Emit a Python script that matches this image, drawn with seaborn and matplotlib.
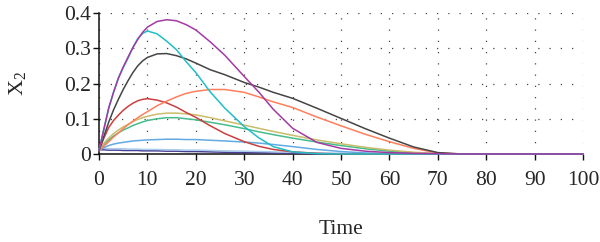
import pandas as pd
import matplotlib
matplotlib.use("Agg")
import matplotlib.pyplot as plt
import seaborn as sns

time = [0, 1, 2, 3, 4, 5, 6, 7, 8, 9, 10, 12, 14, 16, 18, 20, 23, 26, 30, 33, 36, 40, 45, 50, 55, 60, 65, 70, 75, 80, 90, 100]

navy = [0.012, 0.012, 0.011, 0.011, 0.011, 0.010, 0.010, 0.010, 0.010, 0.009, 0.009, 0.009, 0.008, 0.008, 0.007, 0.007, 0.006, 0.005, 0.004, 0.004, 0.003, 0.002, 0.001, 0.001, 0, 0, 0, 0, 0, 0, 0, 0]
pale_blue = [0.016, 0.016, 0.015, 0.015, 0.015, 0.015, 0.014, 0.014, 0.014, 0.013, 0.013, 0.013, 0.012, 0.012, 0.011, 0.011, 0.010, 0.009, 0.008, 0.007, 0.006, 0.005, 0.003, 0.002, 0.001, 0, 0, 0, 0, 0, 0, 0]
light_blue = [0.010, 0.018, 0.024, 0.028, 0.031, 0.033, 0.035, 0.037, 0.038, 0.039, 0.040, 0.041, 0.042, 0.042, 0.041, 0.041, 0.039, 0.037, 0.034, 0.031, 0.027, 0.021, 0.013, 0.007, 0.003, 0.001, 0, 0, 0, 0, 0, 0]
green = [0.010, 0.027, 0.040, 0.051, 0.060, 0.068, 0.074, 0.081, 0.086, 0.091, 0.095, 0.100, 0.103, 0.103, 0.100, 0.097, 0.090, 0.083, 0.072, 0.063, 0.055, 0.045, 0.034, 0.024, 0.015, 0.008, 0.003, 0.001, 0, 0, 0, 0]
olive = [0.010, 0.030, 0.045, 0.058, 0.068, 0.077, 0.084, 0.092, 0.098, 0.103, 0.107, 0.113, 0.116, 0.116, 0.114, 0.111, 0.103, 0.094, 0.082, 0.073, 0.064, 0.053, 0.040, 0.029, 0.019, 0.011, 0.005, 0.001, 0, 0, 0, 0]
red = [0.010, 0.045, 0.075, 0.095, 0.110, 0.124, 0.135, 0.144, 0.151, 0.155, 0.157, 0.153, 0.145, 0.133, 0.118, 0.104, 0.080, 0.058, 0.035, 0.022, 0.013, 0.006, 0.002, 0, 0, 0, 0, 0, 0, 0, 0, 0]
orange = [0.010, 0.022, 0.035, 0.048, 0.060, 0.072, 0.083, 0.093, 0.103, 0.112, 0.120, 0.137, 0.150, 0.162, 0.172, 0.178, 0.183, 0.183, 0.175, 0.162, 0.148, 0.132, 0.105, 0.080, 0.056, 0.035, 0.016, 0.003, 0, 0, 0, 0]
gray = [0.010, 0.050, 0.090, 0.125, 0.155, 0.183, 0.208, 0.231, 0.250, 0.264, 0.274, 0.284, 0.285, 0.279, 0.270, 0.258, 0.239, 0.225, 0.203, 0.190, 0.175, 0.158, 0.130, 0.101, 0.072, 0.045, 0.020, 0.004, 0, 0, 0, 0]
cyan = [0.010, 0.070, 0.130, 0.175, 0.215, 0.245, 0.272, 0.302, 0.327, 0.342, 0.349, 0.341, 0.320, 0.296, 0.262, 0.231, 0.176, 0.130, 0.078, 0.046, 0.021, 0.006, 0.001, 0, 0, 0, 0, 0, 0, 0, 0, 0]
purple = [0.010, 0.070, 0.130, 0.175, 0.215, 0.247, 0.275, 0.302, 0.325, 0.345, 0.360, 0.376, 0.381, 0.378, 0.367, 0.352, 0.318, 0.280, 0.220, 0.176, 0.127, 0.073, 0.033, 0.016, 0.008, 0.004, 0.002, 0.001, 0, 0, 0, 0]

series = {"navy": navy, "pale_blue": pale_blue, "light_blue": light_blue, "green": green,
          "olive": olive, "red": red, "orange": orange, "gray": gray, "cyan": cyan, "purple": purple}
colors = {"navy": "#4A3F96", "pale_blue": "#A9CDEB", "light_blue": "#62AAE3", "green": "#45BC8B",
          "olive": "#C9BC6A", "red": "#C9403F", "orange": "#FF7F5C", "gray": "#454545",
          "cyan": "#20BEC6", "purple": "#A33AA3"}

xticks = [0, 10, 20, 30, 40, 50, 60, 70, 80, 90, 100]
yticks = [0, 0.1, 0.2, 0.3, 0.4]
ytick_labels = ["0", "0.1", "0.2", "0.3", "0.4"]

df = pd.concat([pd.DataFrame({"Time": time, "X2": vals, "run": name}) for name, vals in series.items()])

sns.set_style("ticks")
plt.rcParams["font.family"] = ["Liberation Serif", "DejaVu Serif"]
plt.rcParams["mathtext.fontset"] = "custom"
plt.rcParams["mathtext.rm"] = "Liberation Serif"

fig = plt.figure(figsize=(6, 2.42), dpi=100)
ax = fig.add_axes([0.165, 0.3636, 0.8067, 0.5826])

sns.lineplot(data=df, x="Time", y="X2", hue="run", hue_order=list(series.keys()),
             palette=colors, estimator=None, legend=False, linewidth=1.1, ax=ax)
for line in ax.lines:
    line.set_clip_on(False)
    line.set_zorder(3)
    line.set_solid_joinstyle("round")

ax.set_xlim(0, 100)
ax.set_ylim(0, 0.4)
ax.set_xticks(xticks)
ax.set_yticks(yticks, labels=ytick_labels)
ax.grid(True, linestyle=(0, (1, 8)), color="#444444", linewidth=0.9)
ax.set_axisbelow(True)
sns.despine(ax=ax)
for side in ["left", "bottom"]:
    ax.spines[side].set_linewidth(1.1)
    ax.spines[side].set_color("#111111")

ax.tick_params(axis="x", direction="out", length=4, width=1, pad=8, labelsize=15.5, color="#111111")
ax.tick_params(axis="y", direction="out", length=4, width=1, pad=2, labelsize=15.5, color="#111111")

ax.set_xlabel("Time", fontsize=15.5, labelpad=22)
ax.set_ylabel(r"X$_\mathregular{2}$", fontsize=16, labelpad=25)

fig.savefig("out.png", dpi=100)
